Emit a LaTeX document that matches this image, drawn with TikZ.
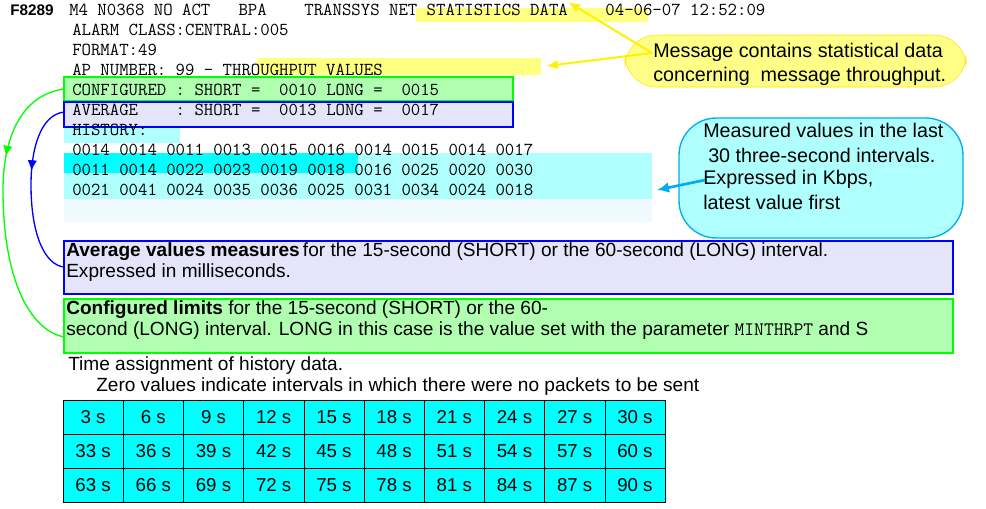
\documentclass[tikz,border=0pt]{standalone}
\usepackage{fontspec}
\setmainfont{Liberation Sans}
\usetikzlibrary{decorations.markings,arrows.meta}
\definecolor{cy}{HTML}{B0FFFF}
\definecolor{cyd}{HTML}{00FFFF}
\definecolor{gr}{HTML}{B0FFB0}
\definecolor{lb}{HTML}{E4E4FA}
\definecolor{yl}{HTML}{FFFF80}
\definecolor{ylc}{HTML}{FFFF88}
\begin{document}
\begin{tikzpicture}[x=0.75pt,y=-0.75pt,
  mt/.style={anchor=west,inner sep=0pt,font=\ttfamily\fontsize{13.7}{14}\selectfont},
  st/.style={anchor=west,inner sep=0pt,font=\fontsize{14.3}{16}\selectfont},
  ct/.style={anchor=west,inner sep=0pt,font=\fontsize{14.8}{17}\selectfont},
  midarrow/.style={postaction={decorate},decoration={markings,mark=at position #1 with {\arrow{Latex[length=8pt,width=7pt]}}}},
  cell/.style={draw=black,fill=cyd,minimum width=60.2*0.75pt,minimum height=34*0.75pt,inner sep=0pt,outer sep=0pt,font=\fontsize{14}{16}\selectfont}]
\useasboundingbox (0,0) rectangle (986,508);
% highlights
\fill[yl] (416,8) rectangle (648,22);
\fill[yl] (257,58) rectangle (541,75);
\fill[cy] (64,127) rectangle (180,143);
\fill[cy] (64,153) rectangle (652,199);
\fill[cyd] (64,153) rectangle (358,173);
\fill[cyan!6] (64,199) rectangle (652,222);
\draw[green,line width=1.3pt,fill=gr] (64,77) rectangle (513,101);
\draw[blue,line width=1.3pt,fill=lb] (64,102) rectangle (513,127);
% mono text
\node[anchor=west,inner sep=0pt,font=\bfseries\fontsize{11.5}{14}\selectfont] (f) at (10,10) {F8289};
\node[mt] (l1) at (69,10) {M4 N0368 NO ACT\ \ \ BPA\ \ \ \ TRANSSYS NET STATISTICS DATA\ \ \ \ 04-06-07 12:52:09};
\node[mt] (l2) at (72,30) {ALARM CLASS:CENTRAL:005};
\node[mt] (l3) at (72,50) {FORMAT:49};
\node[mt] (l4) at (72,70) {AP NUMBER: 99 - THROUGHPUT VALUES};
\node[mt] (l5) at (72,90) {CONFIGURED : SHORT = \ 0010 LONG = \ 0015};
\node[mt] (l6) at (72,110) {AVERAGE\ \ \ \ : SHORT = \ 0013 LONG = \ 0017};
\node[mt] (l7) at (72,130) {HISTORY:};
\node[mt] (l8) at (72,150) {0014 0014 0011 0013 0015 0016 0014 0015 0014 0017};
\node[mt] (l9) at (72,170) {0011 0014 0022 0023 0019 0018 0016 0025 0020 0030};
\node[mt] (l10) at (72,190) {0021 0041 0024 0035 0036 0025 0031 0034 0024 0018};
% callouts
\draw[yellow!85!orange,fill=ylc,rounded corners=24pt] (625,35) rectangle (966,87);
\node[ct] (c1) at (653,52) {Message contains statistical data};
\node[ct] at (653,76) {concerning\ \ message throughput.};
\draw[cyan,line width=1pt,fill=cy,rounded corners=28pt] (679,118) rectangle (963,238);
\node[ct] (c2) at (703,130) {Measured values\ in the last};
\node[ct] at (708,155) {30 three-second intervals.};
\node[ct] at (703,179) {Expressed in Kbps,};
\node[ct] at (703,202) {latest value\ first};
\coordinate (ya) at (652,53);
\coordinate (yt1) at (568,2);
\coordinate (yt2) at (546,66);
\draw[yellow,line width=1.5pt,-{Latex[length=9pt,width=7pt]}] (ya) -- (yt1);
\draw[yellow,line width=1.5pt,-{Latex[length=9pt,width=7pt]}] (ya) -- (yt2);
\coordinate (ca) at (705,180);
\coordinate (ct) at (657,190);
\draw[cyan,line width=2pt,-{Latex[length=9pt,width=8pt]}] (ca) -- (ct);
% explanation boxes
\draw[blue,line width=1.3pt,fill=lb] (64,241) rectangle (953,294);
\node[st] (a1) at (66,252) {\textbf{Average values measures}\,for the 15-second (SHORT) or the 60-second (LONG) interval.};
\node[st] (a2) at (66,273) {Expressed in milliseconds.};
\draw[green,line width=1.3pt,fill=gr] (64,299) rectangle (953,353);
\node[st] (g1) at (66,310) {\textbf{Configured limits} for the 15-second (SHORT) or the 60-};
\node[st] (g2) at (66,331) {second (LONG) interval. LONG in this case is the value set with the parameter {\ttfamily MINTHRPT} and S};
\node[st] (t1) at (68,366) {Time assignment\ of history data.};
\node[st] (t2) at (96,387) {Zero values\ indicate intervals in which there were no packets to be sent};
% curved arrows
\coordinate (gs) at (64,89); \coordinate (ge) at (64,337);
\coordinate (bs) at (64,112); \coordinate (be) at (64,267);
\draw[green,line width=1pt,midarrow=0.32] (gs) .. controls (20,95) and (3,140) .. (3,190) .. controls (3,280) and (30,330) .. (ge);
\draw[blue,line width=1pt,midarrow=0.4] (bs) .. controls (40,115) and (31,150) .. (31,185) .. controls (31,235) and (45,265) .. (be);
% table
\foreach \r [count=\i from 0] in {0,1,2}{
  \foreach \c [count=\j from 0] in {1,...,10}{
    \pgfmathtruncatemacro{\v}{3*(\c+10*\r)}
    \node[cell,anchor=north west] (cell\i\j) at ({63+60.2*\j},{400+34*\i}) {\hfill\v\ s\hspace{4pt}};
  }
}
\end{tikzpicture}
\end{document}
